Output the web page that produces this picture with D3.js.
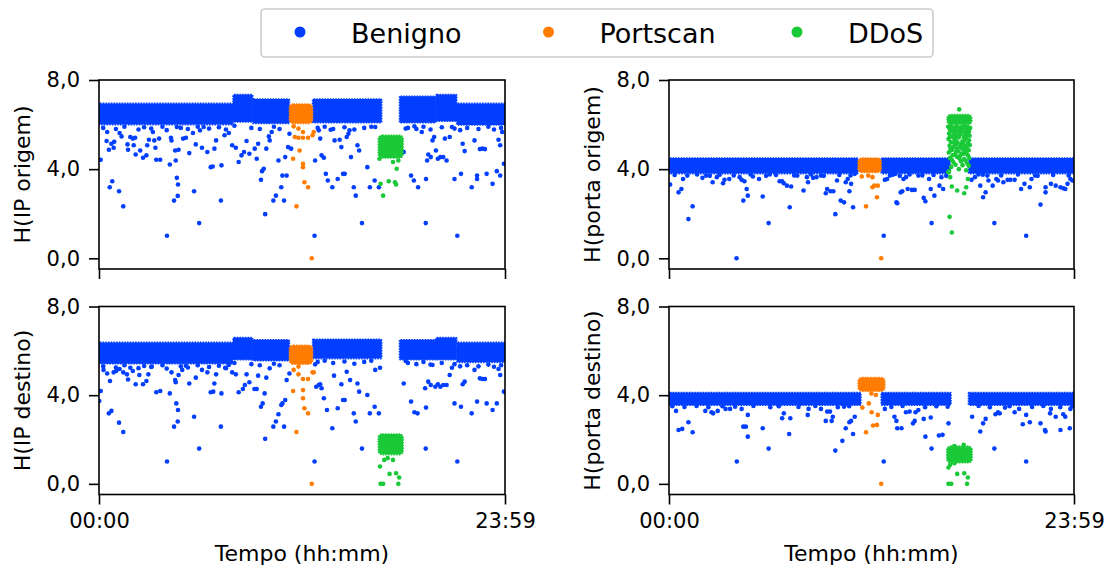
<!DOCTYPE html>
<html><head><meta charset="utf-8">
<script src="https://cdn.jsdelivr.net/npm/d3@7"></script>
<style>body{margin:0;background:#fff}svg{display:block}</style>
</head><body><svg id="c" width="1116" height="572"></svg>
<script>
// ---------------- DATA ----------------
const categories = ["Benigno", "Portscan", "DDoS"];
const colors = ["#023eff", "#ff7c00", "#1ac938"];
const yTicks = [0, 4, 8];
const yTickLabels = ["0,0", "4,0", "8,0"];
const xTicks = [0, 1439];               // minutes of the day
const xTickLabels = ["00:00", "23:59"];
const xLabel = "Tempo (hh:mm)";
const panelLabels = ["H(IP origem)", "H(porta origem)", "H(IP destino)", "H(porta destino)"];

// dense regions: [tStart, tEnd, low, high]
const ipSrcBenignBand = [[0,475,6.0,6.95],[475,545,6.12,7.35],[545,675,6.05,7.15],[757,1002,6.08,7.15],[1065,1194,6.08,7.27],[1194,1268,6.15,7.35],[1268,1439,5.98,6.95]];
const ipSrcPortscanBand = [[675,757,6.05,6.92]];
const ipSrcDdosBand = [[990,1078,4.5,5.52]];

const ipDstBenignBand = [[0,475,5.42,6.38],[475,545,5.6,6.6],[545,675,5.55,6.5],[757,1002,5.65,6.52],[1065,1194,5.6,6.5],[1194,1268,5.6,6.6],[1268,1439,5.48,6.38]];
const ipDstPortscanBand = [[675,757,5.4,6.25]];
const ipDstDdosBand = [[990,1078,1.32,2.25]];

const portSrcBenignBand = [[0,672,3.8,4.5],[754,999,3.8,4.5],[1064,1439,3.8,4.5]];
const portSrcPortscanBand = [[672,754,3.85,4.5]];
const portSrcDdosBand = [[988,1076,6.0,6.45]];

const portDstBenignBand = [[0,682,3.55,4.12],[754,1002,3.55,4.12],[1064,1439,3.55,4.12]];
const portDstPortscanBand = [[672,767,4.18,4.8]];
const portDstDdosBand = [[987,1077,0.95,1.7]];

// sparse points: [minute, entropy]
const ipSrcBenign = [[6,4.42],[29,5.67],[27,5.26],[35,4.87],[44,5.14],[54,5.23],[52,4.96],[38,3.19],[47,3.46],[71,3.01],[86,2.33],[73,5.62],[80,5.47],[101,5.11],[103,4.87],[111,5.44],[120,5.37],[128,5.41],[123,5.07],[130,4.66],[146,4.84],[156,4.51],[168,4.62],[171,5.07],[177,5.32],[191,5.67],[196,5.29],[200,4.96],[213,5.37],[203,4.42],[217,4.42],[241,1.01],[251,4.21],[255,5.41],[257,5.29],[270,4.84],[272,4.39],[276,3.61],[280,3.31],[279,2.80],[266,2.59],[276,5.89],[282,4.87],[298,5.37],[308,5.41],[320,4.72],[333,5.62],[337,3.01],[343,5.11],[355,1.58],[365,4.96],[358,5.74],[371,5.89],[384,4.77],[396,4.09],[403,4.12],[409,4.92],[415,5.29],[432,2.59],[434,4.17],[445,5.52],[460,5.62],[472,5.07],[485,4.96],[495,4.32],[505,4.62],[514,4.77],[523,5.26],[533,4.69],[552,4.92],[559,4.47],[564,5.14],[574,3.52],[578,3.91],[584,4.02],[589,1.98],[593,4.92],[602,5.47],[605,5.29],[612,5.67],[618,2.59],[627,2.81],[636,4.39],[646,3.19],[650,3.71],[656,2.59],[660,4.54],[665,3.71],[670,4.99],[675,5.59],[681,4.92],[764,1.01],[766,4.39],[779,5.74],[784,5.37],[789,4.62],[797,4.51],[804,3.79],[811,3.49],[821,5.77],[827,3.19],[835,5.29],[846,3.56],[853,5.32],[859,4.99],[865,3.79],[871,3.79],[878,5.44],[884,5.59],[888,5.74],[893,4.54],[903,3.19],[910,2.81],[916,5.07],[922,4.84],[932,1.58],[951,4.09],[960,3.19],[977,3.49],[979,5.89],[992,3.19],[1080,4.77],[1087,5.82],[1106,3.71],[1116,3.49],[1118,5.92],[1131,3.19],[1144,5.67],[1158,1.58],[1159,3.56],[1163,4.39],[1167,4.66],[1176,4.54],[1182,5.29],[1188,5.44],[1194,4.84],[1201,4.47],[1210,4.54],[1220,4.54],[1226,5.37],[1232,4.39],[1243,5.44],[1251,5.89],[1260,3.56],[1270,1.01],[1283,3.79],[1289,5.14],[1296,4.81],[1321,3.19],[1331,5.29],[1340,3.71],[1340,3.56],[1350,4.90],[1359,4.92],[1368,4.90],[1374,3.79],[1395,3.34],[1410,3.91],[1416,5.32],[1422,5.07],[1422,3.71],[1429,5.67],[1435,4.24],
  [15,5.85],[60,5.8],[90,5.9],[140,5.78],[160,5.88],[185,5.82],[225,5.9],[240,5.75],[290,5.85],[315,5.8],[350,5.9],[390,5.82],[425,5.88],[450,5.78],[480,5.95],[540,5.85],[570,5.8],[620,5.9],[640,5.8],[775,5.85],[800,5.9],[830,5.8],[870,5.88],[905,5.78],[940,5.85],[965,5.9],[1095,5.85],[1125,5.8],[1150,5.9],[1175,5.78],[1215,5.88],[1260,5.82],[1280,5.75],[1305,5.85],[1345,5.8],[1380,5.9],[1400,5.78],[1425,5.85]];
const ipSrcPortscan = [[690,5.92],[707,5.82],[723,5.67],[694,5.44],[707,5.41],[723,5.41],[741,5.41],[757,5.52],[761,5.67],[711,4.84],[688,4.47],[723,4.24],[723,4.09],[728,3.41],[741,3.19],[700,2.33],[754,0.0]];
const ipSrcDdos = [[1055,4.02],[1042,4.32],[998,3.34],[1027,3.46],[1049,3.41],[1053,3.31],[1007,2.81],[994,4.47],[1061,4.39]];

const ipDstBenign = [[6,4.19],[1,3.74],[35,3.18],[44,3.29],[71,2.76],[86,2.34],[16,5.14],[29,4.98],[39,4.64],[52,5.03],[61,5.09],[73,5.18],[86,5.03],[99,4.94],[103,4.71],[111,5.24],[120,5.09],[130,4.49],[143,4.91],[156,4.49],[168,4.64],[175,4.94],[187,5.29],[203,4.13],[217,4.19],[241,1.01],[251,4.08],[257,5.03],[270,4.68],[272,4.58],[274,3.63],[280,3.33],[279,2.81],[266,2.58],[282,4.91],[295,5.14],[308,5.33],[320,4.53],[337,3.03],[343,4.79],[355,1.59],[365,5.14],[384,5.03],[396,4.13],[405,4.16],[409,4.53],[415,4.94],[432,2.58],[434,4.08],[447,5.24],[460,5.36],[472,5.03],[485,4.94],[495,4.13],[510,4.28],[517,4.46],[523,4.94],[533,4.58],[551,4.28],[559,4.28],[564,4.88],[574,3.48],[580,3.63],[587,4.08],[589,2.03],[593,4.79],[605,5.21],[618,2.58],[627,2.81],[636,3.14],[646,3.56],[650,3.63],[656,2.58],[660,3.78],[665,4.68],[675,4.98],[764,1.01],[766,5.39],[770,4.38],[779,4.46],[784,4.49],[789,4.31],[797,3.86],[808,3.33],[827,2.51],[833,4.88],[846,3.41],[859,4.49],[865,3.78],[871,3.78],[878,5.06],[890,4.68],[903,3.18],[910,2.81],[916,4.53],[922,4.16],[932,1.59],[951,4.01],[960,3.18],[977,3.48],[979,5.14],[992,3.18],[996,5.24],[1080,4.53],[1087,5.54],[1106,3.71],[1118,3.23],[1129,3.18],[1156,4.31],[1158,1.59],[1159,3.44],[1167,4.61],[1176,4.46],[1182,5.36],[1192,4.38],[1201,4.49],[1210,4.38],[1220,4.46],[1232,4.46],[1243,4.91],[1251,5.24],[1260,3.63],[1270,1.01],[1283,3.48],[1289,4.49],[1296,4.61],[1321,3.18],[1331,5.14],[1340,3.71],[1350,4.76],[1359,4.73],[1368,4.73],[1374,3.63],[1395,3.33],[1410,3.63],[1416,5.18],[1422,4.91],[1435,4.16],
  [15,5.3],[60,5.25],[90,5.35],[140,5.22],[160,5.32],[185,5.27],[225,5.35],[240,5.2],[290,5.3],[315,5.25],[350,5.35],[390,5.27],[425,5.33],[450,5.22],[480,5.45],[540,5.4],[570,5.35],[620,5.42],[640,5.35],[775,5.5],[800,5.55],[830,5.45],[870,5.52],[905,5.42],[940,5.5],[965,5.55],[1095,5.45],[1125,5.4],[1150,5.5],[1175,5.38],[1215,5.45],[1260,5.4],[1280,5.3],[1305,5.35],[1345,5.3],[1380,5.38],[1400,5.28],[1425,5.35]];
const ipDstPortscan = [[690,5.14],[707,4.94],[723,4.73],[741,4.73],[757,5.03],[761,5.03],[688,4.19],[723,4.23],[723,3.86],[728,3.41],[741,3.18],[700,2.34],[754,0.0],[707,5.29]];
const ipDstDdos = [[996,0.78],[1030,0.45],[1053,0.48],[1064,0.29],[998,0.0],[1007,0.0],[1061,0.0],[1011,1.08],[1042,1.08],[1023,1.16]];

const portSrcBenign = [[4,3.31],[34,2.96],[44,3.11],[50,3.56],[69,1.76],[84,2.33],[119,3.61],[132,3.71],[155,3.41],[170,3.64],[192,3.37],[197,3.52],[214,3.56],[240,0.0],[251,3.64],[258,3.52],[264,2.59],[268,3.46],[276,3.11],[280,2.81],[298,3.67],[320,3.56],[333,2.77],[354,1.58],[358,3.76],[393,3.46],[402,3.46],[408,3.37],[419,3.26],[429,2.29],[434,3.22],[456,3.71],[478,3.04],[490,3.64],[494,3.41],[512,3.61],[524,3.64],[540,3.71],[557,2.92],[562,3.11],[574,3.01],[584,3.01],[591,1.98],[597,3.49],[610,2.59],[622,2.51],[628,3.41],[635,3.56],[641,3.01],[647,3.34],[654,2.29],[660,3.79],[763,1.01],[767,3.52],[775,3.56],[785,3.71],[804,3.79],[808,2.51],[811,2.47],[823,2.96],[829,3.01],[833,3.56],[842,3.64],[848,3.11],[863,3.07],[873,3.07],[886,3.71],[905,2.71],[911,2.56],[924,3.56],[930,3.11],[933,1.58],[943,2.81],[961,3.26],[968,3.64],[974,3.11],[1075,3.52],[1087,3.64],[1100,3.76],[1106,3.26],[1116,2.74],[1125,2.96],[1131,3.71],[1135,3.49],[1150,3.26],[1156,1.58],[1163,3.56],[1169,3.49],[1188,3.41],[1203,3.52],[1213,3.52],[1228,3.52],[1251,3.11],[1263,3.34],[1269,1.01],[1282,3.19],[1288,3.56],[1301,3.71],[1320,2.41],[1338,3.19],[1338,2.96],[1357,3.34],[1374,3.26],[1391,3.19],[1401,3.14],[1408,3.11],[1416,3.34],[1426,3.56],[1433,3.49],
  [20,3.74],[65,3.71],[100,3.76],[145,3.7],[180,3.75],[230,3.72],[290,3.76],[345,3.7],[380,3.74],[445,3.72],[505,3.76],[550,3.7],[605,3.74],[645,3.72],[795,3.75],[820,3.7],[855,3.76],[900,3.72],[940,3.74],[985,3.7],[1115,3.75],[1180,3.72],[1240,3.76],[1310,3.7],[1365,3.74],[1420,3.72]];
const portSrcPortscan = [[685,3.67],[708,3.71],[723,3.64],[723,3.19],[729,3.26],[742,3.26],[739,2.74],[700,2.33],[754,0.0]];
const portSrcDdos = [[1031,6.68],[992,5.9],[1000,5.95],[1010,5.85],[1022,5.92],[1035,5.88],[1048,5.95],[1060,5.9],[1070,5.85],[995,5.6],[1003,5.72],[1015,5.65],[1028,5.55],[1040,5.7],[1052,5.62],[1063,5.75],[1068,5.5],[993,5.35],[1006,5.45],[1018,5.3],[1030,5.42],[1043,5.25],[1055,5.4],[1066,5.3],[1012,5.2],[997,5.05],[1008,4.95],[1020,5.12],[1034,5.0],[1046,5.1],[1058,4.95],[1069,5.08],[994,4.75],[1004,4.85],[1016,4.65],[1027,4.8],[1039,4.7],[1050,4.85],[1062,4.62],[998,4.5],[1011,4.3],[1024,4.55],[1037,4.35],[1049,4.45],[1060,4.25],[1067,4.5],[995,3.9],[1003,4.1],[1030,4.0],[1056,3.95],[1065,4.15],[999,3.64],[1005,3.22],[1024,3.04],[1056,3.19],[1049,2.92],[1062,3.56],[997,1.86],[1005,1.16],[993,3.86],
  [998,5.78],[1006,5.88],[1017,5.8],[1026,5.72],[1033,5.77],[1044,5.82],[1055,5.8],[1066,5.68],[999,5.48],[1011,5.55],[1022,5.48],[1036,5.58],[1047,5.45],[1059,5.55],[1001,5.22],[1014,5.38],[1025,5.2],[1038,5.12],[1050,5.28],[1062,5.15],[1000,4.9],[1013,5.02],[1024,4.92],[1041,4.92],[1053,5.02],[1065,4.85],[1008,4.62],[1020,4.78],[1033,4.58],[1045,4.68],[1056,4.72],[1006,4.4],[1018,4.2],[1032,4.48],[1043,4.18],[1054,4.38]];

const portDstBenign = [[25,3.29],[34,2.43],[47,2.48],[69,2.78],[84,2.33],[129,3.29],[151,3.23],[157,3.18],[173,3.29],[201,3.38],[217,3.38],[258,3.38],[264,2.58],[273,2.58],[280,2.13],[280,3.11],[241,1.01],[333,2.51],[354,1.59],[402,2.96],[408,3.18],[431,2.96],[427,2.25],[493,3.11],[496,3.38],[540,3.38],[557,2.84],[562,3.26],[572,3.26],[578,2.84],[582,3.03],[591,1.50],[616,1.94],[628,2.51],[641,2.78],[647,2.84],[654,2.25],[660,3.03],[622,3.48],[763,1.01],[767,3.38],[801,3.03],[808,2.84],[811,2.51],[826,2.51],[842,3.23],[855,3.26],[867,2.73],[873,2.84],[876,3.23],[905,2.93],[911,2.13],[930,2.99],[933,1.59],[959,2.18],[972,2.21],[993,2.73],[886,3.33],[1077,3.03],[1106,2.36],[1116,2.73],[1125,2.93],[1156,1.59],[1160,3.14],[1169,3.23],[1175,3.18],[1194,3.44],[1228,3.23],[1244,3.38],[1257,2.69],[1269,3.11],[1269,1.01],[1282,2.78],[1320,2.73],[1336,2.43],[1338,2.36],[1354,3.18],[1374,3.03],[1391,2.43],[1408,3.03],[1424,2.51],[1357,3.38],[1401,3.14],[1426,3.38],
  [12,3.5],[55,3.47],[98,3.51],[140,3.46],[190,3.5],[235,3.48],[300,3.51],[360,3.46],[390,3.5],[460,3.47],[520,3.51],[600,3.46],[640,3.5],[790,3.47],[830,3.51],[910,3.46],[950,3.5],[990,3.48],[1100,3.51],[1140,3.46],[1210,3.5],[1290,3.47],[1330,3.51],[1390,3.46],[1432,3.5]];
const portDstPortscan = [[719,4.08],[735,4.01],[710,3.63],[687,3.44],[720,3.23],[742,3.11],[725,2.63],[739,2.66],[700,2.33],[754,0.0]];
const portDstDdos = [[993,0.74],[999,0.86],[1014,0.93],[1024,0.45],[1049,0.48],[1062,0.29],[993,0.0],[1003,0.0],[1059,0.0],[1014,1.71],[1047,1.76]];

// ---------------- LAYOUT ----------------
const font = "DejaVu Sans, Verdana, sans-serif";
const svg = d3.select("#c");
const yDomain = [-0.48, 8];
const panels = [
  {label: panelLabels[0], x0: 99, x1: 505, y0: 80, y1: 269, xlab: false,
   bands: [ipSrcBenignBand, ipSrcPortscanBand, ipSrcDdosBand], pts: [ipSrcBenign, ipSrcPortscan, ipSrcDdos]},
  {label: panelLabels[1], x0: 669, x1: 1074, y0: 80, y1: 269, xlab: false,
   bands: [portSrcBenignBand, portSrcPortscanBand, portSrcDdosBand], pts: [portSrcBenign, portSrcPortscan, portSrcDdos]},
  {label: panelLabels[2], x0: 99, x1: 505, y0: 306.5, y1: 494.5, xlab: true,
   bands: [ipDstBenignBand, ipDstPortscanBand, ipDstDdosBand], pts: [ipDstBenign, ipDstPortscan, ipDstDdos]},
  {label: panelLabels[3], x0: 669, x1: 1074, y0: 306.5, y1: 494.5, xlab: true,
   bands: [portDstBenignBand, portDstPortscanBand, portDstDdosBand], pts: [portDstBenign, portDstPortscan, portDstDdos]}
];

panels.forEach((p, pi) => {
  const x = d3.scaleLinear().domain([xTicks[0], xTicks[1]]).range([p.x0, p.x1]);
  const y = d3.scaleLinear().domain(yDomain).range([p.y1, p.y0]);
  const g = svg.append("g");
  const clipId = "clip" + pi;
  g.append("clipPath").attr("id", clipId).append("rect")
    .attr("x", p.x0).attr("y", p.y0).attr("width", p.x1 - p.x0).attr("height", p.y1 - p.y0);
  const plot = g.append("g").attr("clip-path", `url(#${clipId})`);

  categories.forEach((c, ci) => {
    plot.append("g").selectAll("rect").data(p.bands[ci]).join("rect")
      .attr("x", d => x(d[0])).attr("width", d => x(d[1]) - x(d[0]))
      .attr("y", d => y(d[3])).attr("height", d => y(d[2]) - y(d[3]))
      .attr("rx", ci === 0 ? 1 : 4)
      .attr("fill", colors[ci]).attr("stroke", colors[ci]).attr("stroke-width", 1.6)
      .attr("stroke-dasharray", "1.5 1.2");
    plot.append("g").selectAll("circle").data(p.pts[ci]).join("circle")
      .attr("cx", d => x(d[0])).attr("cy", d => y(d[1])).attr("r", 2.3)
      .attr("fill", colors[ci]);
  });

  // frame
  g.append("rect").attr("x", p.x0).attr("y", p.y0)
    .attr("width", p.x1 - p.x0).attr("height", p.y1 - p.y0)
    .attr("fill", "none").attr("stroke", "#000").attr("stroke-width", 1.6);

  // y axis
  const ya = g.append("g").attr("transform", `translate(${p.x0},0)`)
    .call(d3.axisLeft(y).tickValues(yTicks).tickFormat((d, i) => yTickLabels[i]).tickSize(10).tickSizeOuter(0).tickPadding(9));
  ya.select(".domain").remove();
  ya.selectAll("line").attr("stroke", "#000").attr("stroke-width", 1.6);
  ya.selectAll("text").attr("font-family", font).attr("font-size", 21).attr("fill", "#000");

  // x axis
  const xa = g.append("g").attr("transform", `translate(0,${p.y1})`)
    .call(d3.axisBottom(x).tickValues(xTicks).tickFormat((d, i) => p.xlab ? xTickLabels[i] : "").tickSize(10).tickSizeOuter(0).tickPadding(9));
  xa.select(".domain").remove();
  xa.selectAll("line").attr("stroke", "#000").attr("stroke-width", 1.6);
  xa.selectAll("text").attr("font-family", font).attr("font-size", 21).attr("fill", "#000");

  // y label
  g.append("text")
    .attr("transform", `translate(${p.x0 - 77},${(p.y0 + p.y1) / 2}) rotate(-90)`)
    .attr("text-anchor", "middle").attr("dominant-baseline", "central")
    .attr("font-family", font).attr("font-size", 22).text(p.label);

  if (p.xlab) {
    g.append("text").attr("x", (p.x0 + p.x1) / 2).attr("y", 553)
      .attr("text-anchor", "middle").attr("dominant-baseline", "central")
      .attr("font-family", font).attr("font-size", 22).text(xLabel);
  }
});

// legend
const lg = svg.append("g");
lg.append("rect").attr("x", 261).attr("y", 9).attr("width", 672).attr("height", 48)
  .attr("rx", 4).attr("fill", "#fff").attr("stroke", "#cccccc").attr("stroke-width", 1.6);
const legendX = d3.scalePoint().domain(categories).range([300, 797]);
categories.forEach((c, i) => {
  lg.append("circle").attr("cx", legendX(c)).attr("cy", 32).attr("r", 5.5).attr("fill", colors[i]);
  lg.append("text").attr("x", legendX(c) + 51).attr("y", 33)
    .attr("dominant-baseline", "central").attr("font-family", font).attr("font-size", 27).text(c);
});
</script></body></html>
